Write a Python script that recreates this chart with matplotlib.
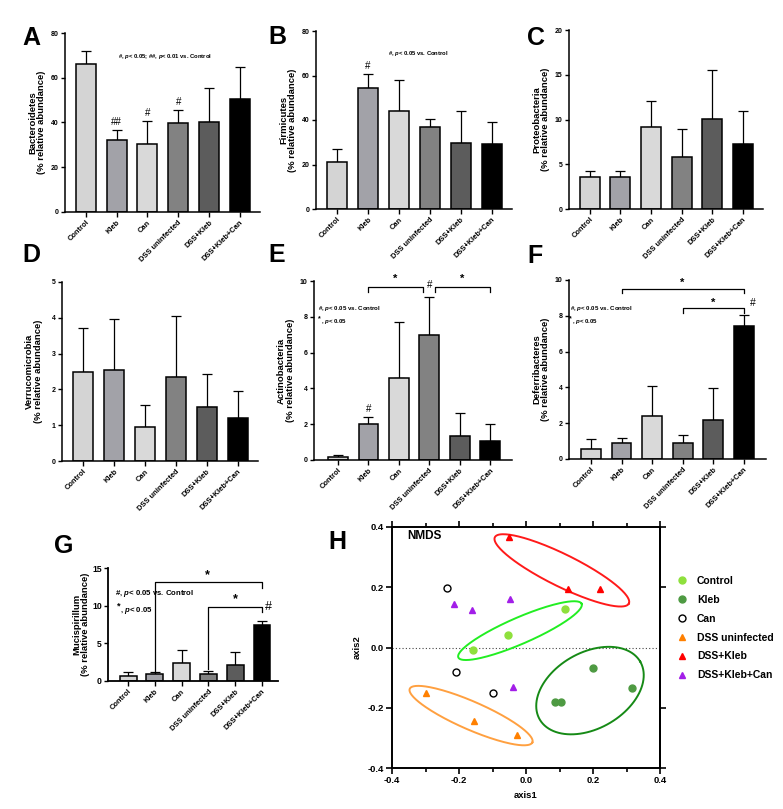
import matplotlib.pyplot as plt
import numpy as np
from matplotlib.lines import Line2D
from matplotlib.ticker import MultipleLocator

plt.rcParams['font.family'] = ['Liberation Sans', 'DejaVu Sans']
plt.rcParams['font.weight'] = 'bold'
plt.rcParams['axes.labelweight'] = 'bold'
plt.rcParams['mathtext.fontset'] = 'custom'
plt.rcParams['mathtext.it'] = 'Liberation Sans:italic:bold'
plt.rcParams['mathtext.rm'] = 'Liberation Sans:bold'

# data
groups = ["Control", "Kleb", "Can", "DSS uninfected", "DSS+Kleb", "DSS+Kleb+Can"]
bar_colors = ["#d4d4d4", "#a2a2a8", "#d9d9d9", "#828282", "#5c5c5c", "#000000"]

bacteroidetes = [66.3, 32.2, 30.3, 39.9, 40.4, 50.5]
bacteroidetes_err = [5.6, 4.6, 10.4, 5.6, 15.0, 14.4]
firmicutes = [21.2, 54.3, 44.0, 37.0, 29.6, 29.3]
firmicutes_err = [5.8, 6.5, 14.0, 3.5, 14.3, 9.9]
proteobacteria = [3.6, 3.6, 9.2, 5.8, 10.1, 7.3]
proteobacteria_err = [0.6, 0.6, 2.9, 3.1, 5.4, 3.7]
verrucomicrobia = [2.48, 2.55, 0.95, 2.35, 1.50, 1.19]
verrucomicrobia_err = [1.24, 1.42, 0.62, 1.71, 0.93, 0.76]
actinobacteria = [0.18, 2.0, 4.58, 7.0, 1.35, 1.08]
actinobacteria_err = [0.09, 0.42, 3.14, 2.12, 1.27, 0.95]
deferribacteres = [0.58, 0.92, 2.42, 0.92, 2.18, 7.45]
deferribacteres_err = [0.55, 0.24, 1.64, 0.44, 1.76, 0.59]
mucispirillum = [0.6, 0.9, 2.4, 0.9, 2.15, 7.45]
mucispirillum_err = [0.55, 0.25, 1.65, 0.45, 1.75, 0.55]

# NMDS points
ctrl_x = [-0.159, -0.055, 0.117]
ctrl_y = [-0.008, 0.040, 0.128]
kleb_x = [0.087, 0.104, 0.201, 0.315]
kleb_y = [-0.182, -0.182, -0.069, -0.135]
can_x = [-0.235, -0.210, -0.100]
can_y = [0.197, -0.080, -0.152]
dss_x = [-0.300, -0.154, -0.027]
dss_y = [-0.150, -0.243, -0.292]
dsskleb_x = [-0.051, 0.124, 0.222]
dsskleb_y = [0.366, 0.193, 0.193]
dkc_x = [-0.214, -0.161, -0.047, -0.040]
dkc_y = [0.143, 0.123, 0.160, -0.130]

# ellipses: center, half axis u, half axis v (data units)
ell_ctrl = [(-0.018, 0.056), (0.184, 0.089), (-0.0155, 0.040)]
ell_kleb = [(0.191, -0.143), (0.150, 0.096), (-0.057, 0.109)]
ell_dss = [(-0.164, -0.226), (0.183, -0.089), (0.0168, 0.0426)]
ell_dsskleb = [(0.107, 0.256), (0.200, -0.110), (0.021, 0.048)]

W, H = 783, 809
fig = plt.figure(figsize=(W / 100, H / 100), dpi=100)


def px_axes(l, t, r, b):
    return fig.add_axes([l / W, 1 - b / H, (r - l) / W, (b - t) / H])


def pval(ax, x, y, fs):
    ax.text(x, y, r"#, $p$< 0.05 vs. Control", fontsize=fs, ha='left', va='center')


def bar_panel(box, vals, errs, ymax, step, ylabel, xlim=(-0.68, 5.66), width=0.65,
              tfs=5, lfs=6.8, xfs=5.4, labx=-19):
    ax = px_axes(*box)
    x = np.arange(len(groups))
    ax.bar(x, vals, width=width, color=bar_colors, edgecolor='black', linewidth=1.1, zorder=2)
    ax.errorbar(x, vals, yerr=[np.zeros(len(vals)), errs], fmt='none', ecolor='black',
                elinewidth=0.9, capsize=3.5, capthick=0.9, zorder=1)
    ax.set_xlim(*xlim)
    ax.set_ylim(0, ymax)
    ax.set_yticks(np.arange(0, ymax + step / 2, step))
    ax.set_xticks(x)
    ax.set_xticklabels(groups, rotation=45, ha='right', rotation_mode='anchor', fontsize=xfs)
    ax.tick_params(axis='y', labelsize=tfs, length=3, width=1, pad=1.5)
    ax.tick_params(axis='x', length=3.5, width=1, pad=1.5)
    for s in ['top', 'right']:
        ax.spines[s].set_visible(False)
    for s in ['left', 'bottom']:
        ax.spines[s].set_linewidth(1.1)
    ax.set_ylabel(ylabel, fontsize=lfs, linespacing=1.0)
    bw = box[2] - box[0]
    ax.yaxis.set_label_coords(labx / bw, 0.5)
    return ax


def hashes(ax, idx, vals, errs, sym, fs=7):
    for i, s in zip(idx, sym):
        ax.annotate(s, (i, vals[i] + errs[i]), xytext=(0, 2), textcoords='offset points',
                    ha='center', va='bottom', fontsize=fs, fontweight='normal')


def bracket(ax, x0, x1, y, l0, l1, lw=0.9):
    ax.plot([x0, x0, x1, x1], [l0, y, y, l1], color='black', lw=lw, clip_on=False)


# A
axA = bar_panel((65, 33, 260, 212), bacteroidetes, bacteroidetes_err, 80, 20,
                "Bacteroidetes\n(% relative abundance)")
hashes(axA, [1, 2, 3], bacteroidetes, bacteroidetes_err, ["##", "#", "#"])
axA.text(2.58, 69.3, r"#, $p$< 0.05; ##, $p$< 0.01 vs. Control", fontsize=4.2,
         ha='center', va='center')

# B
axB = bar_panel((316, 31, 512, 209), firmicutes, firmicutes_err, 80, 20,
                "Firmicutes\n(% relative abundance)")
hashes(axB, [1], firmicutes, firmicutes_err, ["#"])
axB.text(2.63, 70.1, r"#, $p$< 0.05 vs. Control", fontsize=4.2, ha='center', va='center')

# C
axC = bar_panel((569, 30, 763, 209), proteobacteria, proteobacteria_err, 20, 5,
                "Proteobacteria\n(% relative abundance)")

# D
axD = bar_panel((62, 282, 258, 461), verrucomicrobia, verrucomicrobia_err, 5, 1,
                "Verrucomicrobia\n(% relative abundance)")

# E
axE = bar_panel((314, 281, 512, 460), actinobacteria, actinobacteria_err, 10, 2,
                "Actinobacteria\n(% relative abundance)", xlim=(-0.79, 5.72))
hashes(axE, [1], actinobacteria, actinobacteria_err, ["#"])
bracket(axE, 1, 2.8, 9.66, 9.4, 9.4)
bracket(axE, 3.2, 5, 9.66, 9.4, 9.4)
axE.text(1.87, 10.1, "*", fontsize=8, ha='center', va='center')
axE.text(4.07, 10.1, "*", fontsize=8, ha='center', va='center')
axE.text(3.0, 9.75, "#", fontsize=7, ha='center', va='center', fontweight='normal')
pval(axE, -0.66, 8.44, 4.4)
axE.text(-0.62, 7.9, "*", fontsize=5, ha='center', va='center')
axE.text(-0.57, 7.73, r", $p$< 0.05", fontsize=4.4, ha='left', va='center')

# F
axF = bar_panel((569, 280, 766, 459), deferribacteres, deferribacteres_err, 10, 2,
                "Deferribacteres\n(% relative abundance)", xlim=(-0.72, 5.73))
bracket(axF, 1, 5, 9.5, 9.27, 9.27)
bracket(axF, 3, 5, 8.44, 8.16, 8.16)
axF.text(2.97, 9.85, "*", fontsize=8, ha='center', va='center')
axF.text(3.99, 8.75, "*", fontsize=8, ha='center', va='center')
axF.text(5.2, 8.7, "#", fontsize=7.5, ha='left', va='center', fontweight='normal')
pval(axF, -0.69, 8.38, 4.4)
axF.text(-0.66, 7.85, "*", fontsize=5, ha='center', va='center')
axF.text(-0.61, 7.67, r", $p$< 0.05", fontsize=4.4, ha='left', va='center')

# G
axG = bar_panel((108, 568, 278, 681), mucispirillum, mucispirillum_err, 15, 5,
                "Mucispirillum\n(% relative abundance)", xlim=(-0.75, 5.6), width=0.63,
                tfs=6.2, lfs=6.8, xfs=5.4, labx=-18)
axG.spines['left'].set_linewidth(1.3)
axG.spines['bottom'].set_linewidth(1.3)
bracket(axG, 1, 5, 13.1, 1.25, 12.3)
bracket(axG, 3, 5, 9.8, 1.6, 9.1)
axG.text(2.98, 14.0, "*", fontsize=9, ha='center', va='center')
axG.text(3.99, 10.8, "*", fontsize=9, ha='center', va='center')
axG.text(5.1, 9.8, "#", fontsize=9, ha='left', va='center', fontweight='normal')
pval(axG, -0.49, 11.55, 5.6)
axG.text(-0.36, 10.0, "*", fontsize=6.5, ha='center', va='center')
axG.text(-0.3, 9.33, r", $p$< 0.05", fontsize=5.6, ha='left', va='center')

# H  NMDS
axH = px_axes(392, 527, 660, 768)
t = np.linspace(0, 2 * np.pi, 200)
for (c, u, v), col in zip([ell_dsskleb, ell_ctrl, ell_kleb, ell_dss],
                          ['#ff1a1a', '#22ee22', '#168a16', '#ffa040']):
    ex = c[0] + u[0] * np.cos(t) + v[0] * np.sin(t)
    ey = c[1] + u[1] * np.cos(t) + v[1] * np.sin(t)
    axH.plot(ex, ey, color=col, lw=1.4, zorder=2)

axH.axhline(0, color='#444444', lw=0.8, ls=(0, (1, 2)), zorder=1)
ms = 5
series = [
    ("Control", ctrl_x, ctrl_y, 'o', '#8ee03c', '#8ee03c'),
    ("Kleb", kleb_x, kleb_y, 'o', '#4e9a42', '#4e9a42'),
    ("Can", can_x, can_y, 'o', 'none', 'black'),
    ("DSS uninfected", dss_x, dss_y, '^', '#ff8000', '#ff8000'),
    ("DSS+Kleb", dsskleb_x, dsskleb_y, '^', '#ff0000', '#ff0000'),
    ("DSS+Kleb+Can", dkc_x, dkc_y, '^', '#a21ee8', '#a21ee8'),
]
handles = []
for name, xs, ys, m, fc, ec in series:
    axH.plot(xs, ys, ls='none', marker=m, ms=ms, mfc=fc, mec=ec, mew=1.0, zorder=3)
    handles.append(Line2D([], [], ls='none', marker=m, ms=ms, mfc=fc, mec=ec, mew=1.0, label=name))

axH.set_xlim(-0.4, 0.4)
axH.set_ylim(-0.4, 0.4)
axH.set_xticks([-0.4, -0.2, 0.0, 0.2, 0.4])
axH.set_yticks([-0.4, -0.2, 0.0, 0.2, 0.4])
axH.xaxis.set_minor_locator(MultipleLocator(0.1))
axH.tick_params(axis='x', which='both', top=True, direction='out')
axH.tick_params(which='major', length=4, width=1.2, labelsize=6.8, pad=2)
axH.tick_params(which='minor', length=3, width=1.2)
for s in axH.spines.values():
    s.set_linewidth(1.4)
axH.xaxis.set_major_formatter(plt.FormatStrFormatter('%.1f'))
axH.yaxis.set_major_formatter(plt.FormatStrFormatter('%.1f'))
sec = axH.secondary_yaxis('right')
sec.set_yticks([-0.4, -0.2, 0.2, 0.4])
sec.set_yticklabels([])
sec.tick_params(length=4, width=1.2)
sec.spines['right'].set_linewidth(1.4)
axH.set_xlabel("axis1", fontsize=6.8, labelpad=4)
axH.set_ylabel("axis2", fontsize=6.8)
axH.yaxis.set_label_coords(-30 / 268, 0.5)
axH.text(-0.355, 0.37, "NMDS", fontsize=8.5, ha='left', va='center')
fig.legend(handles=handles, loc='upper left', bbox_to_anchor=(677 / W, 1 - 576 / H),
           frameon=False, fontsize=7.5, handlelength=1.0, handletextpad=0.9,
           labelspacing=0.85, borderpad=0, borderaxespad=0)

# panel letters
letters = [("A", 22, 45), ("B", 268, 44), ("C", 527, 45), ("D", 22, 262), ("E", 268, 262),
           ("F", 527, 263), ("G", 54, 553), ("H", 328, 549)]
for s, lx, ly in letters:
    fig.text(lx / W, 1 - ly / H, s, fontsize=18, fontweight='bold', ha='left', va='baseline')

fig.savefig('out.png', dpi=100)
